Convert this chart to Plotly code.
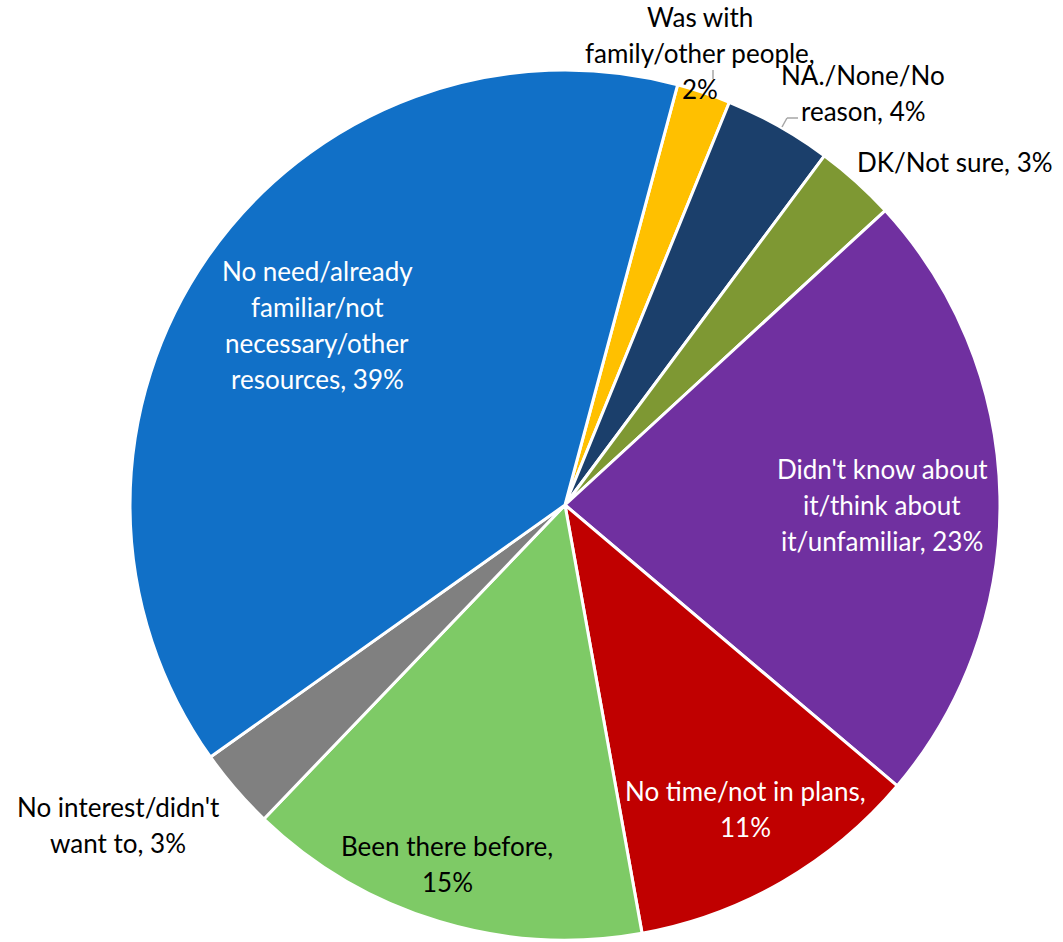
import plotly.graph_objects as go

# Survey: reasons for not visiting (share of respondents, %)
categories = [
    "Was with family/other people",
    "NA./None/No reason",
    "DK/Not sure",
    "Didn't know about it/think about it/unfamiliar",
    "No time/not in plans",
    "Been there before",
    "No interest/didn't want to",
    "No need/already familiar/not necessary/other resources",
]
values = [2, 4, 3, 23, 11, 15, 3, 39]

# Wrapped label lines for each slice
label_lines = [
    ["Was with", "family/other people,", "2%"],
    ["NA./None/No", "reason, 4%"],
    ["DK/Not sure, 3%"],
    ["Didn't know about", "it/think about", "it/unfamiliar, 23%"],
    ["No time/not in plans,", "11%"],
    ["Been there before,", "15%"],
    ["No interest/didn't", "want to, 3%"],
    ["No need/already", "familiar/not", "necessary/other", "resources, 39%"],
]

colors = ["#FFC000", "#1B3F6B", "#7E9833", "#7030A0",
          "#C00000", "#7ECA66", "#808080", "#1170C7"]
text_colors = ["#000000", "#000000", "#000000", "#FFFFFF",
               "#FFFFFF", "#000000", "#000000", "#FFFFFF"]

W, H = 1063, 942
# label block centres in pixels (x, y)
label_pos = [(700, 53), (863, 93), (955, 162), (882, 505),
             (745, 809), (447, 864), (118, 825), (317, 325)]
LINE_GAP = 36
FONT = "Lato, 'Open Sans', Arial, sans-serif"


def px(x, y):
    return x / W, 1 - y / H


fig = go.Figure(go.Pie(
    labels=categories,
    values=values,
    sort=False,
    direction="clockwise",
    rotation=15,
    marker=dict(colors=colors, line=dict(color="white", width=3)),
    textinfo="none",
    hoverinfo="label+percent",
    showlegend=False,
    domain=dict(x=[130 / W, 1000 / W], y=[1 - 940 / H, 1 - 70 / H]),
))

annotations = []
for lines, (cx, cy), tc in zip(label_lines, label_pos, text_colors):
    n = len(lines)
    for i, line in enumerate(lines):
        y = cy + (i - (n - 1) / 2) * LINE_GAP
        ax, ay = px(cx, y)
        annotations.append(dict(
            x=ax, y=ay, xref="paper", yref="paper", text=line,
            showarrow=False, xanchor="center", yanchor="middle",
            font=dict(family=FONT, size=26, color=tc),
        ))

# short leader lines for the two small top slices
shapes = []
for (x0, y0), (x1, y1) in [((713, 70), (713, 79)),
                           ((782, 127), (787, 118)),
                           ((787, 118), (798, 118))]:
    a0, b0 = px(x0, y0)
    a1, b1 = px(x1, y1)
    shapes.append(dict(type="line", xref="paper", yref="paper",
                       x0=a0, y0=b0, x1=a1, y1=b1,
                       line=dict(color="#A6A6A6", width=1.5)))

fig.update_layout(
    width=W, height=H,
    margin=dict(l=0, r=0, t=0, b=0),
    paper_bgcolor="white",
    plot_bgcolor="white",
    annotations=annotations,
    shapes=shapes,
)

fig.write_html("out.html")
